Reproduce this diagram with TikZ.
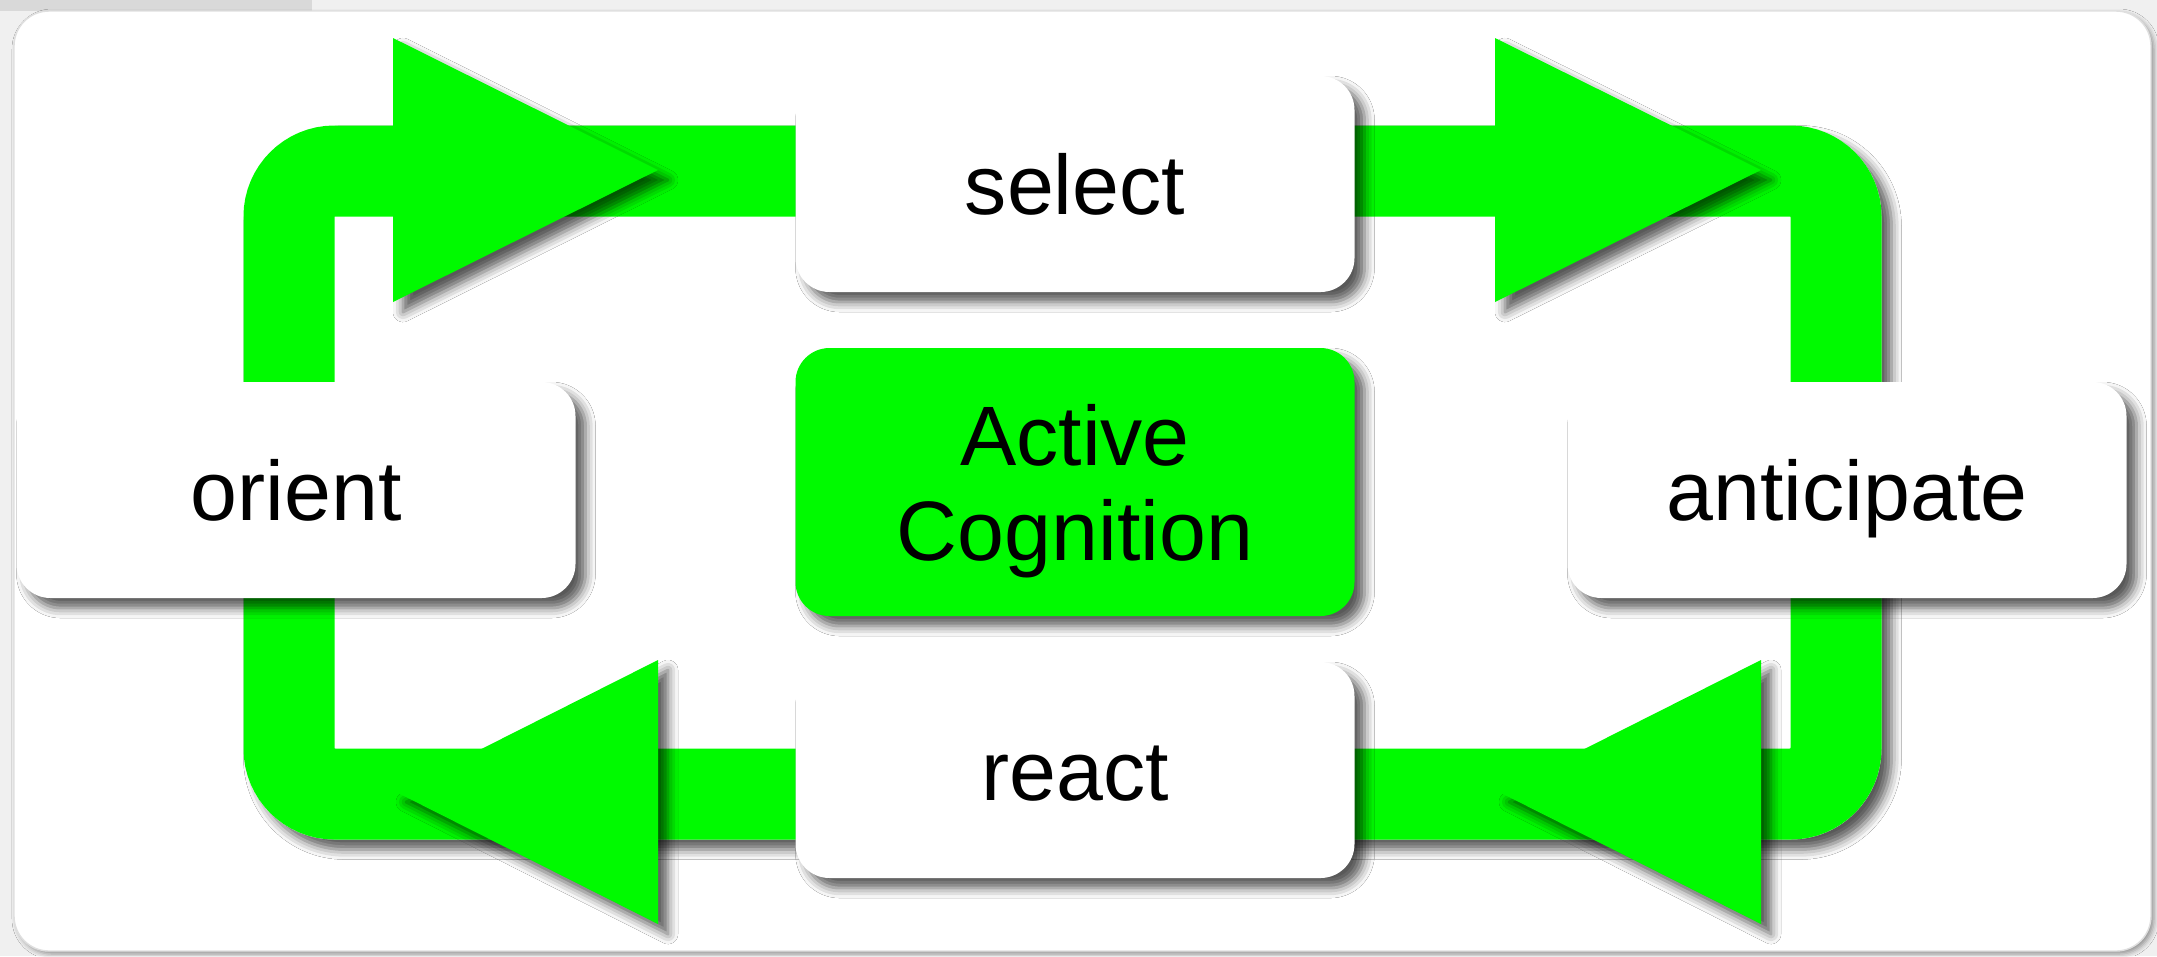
\documentclass[tikz,border=0pt]{standalone}
\usepackage{fontspec}
\setmainfont{Liberation Sans}
\usetikzlibrary{shadows.blur}
\definecolor{loopgreen}{RGB}{0,250,0}
\tikzset{
  softshadow/.style={blur shadow={shadow xshift=1mm, shadow yshift=-1mm,
    shadow blur radius=1mm, shadow opacity=65}},
  pill/.style={rectangle, rounded corners=3.4mm, fill=white, align=center,
    font=\fontsize{24}{27}\selectfont, minimum width=55.9mm, inner sep=0pt,
    softshadow},
  stage/.style={pill, minimum height=21.6mm, text height=17.3pt, text depth=0pt},
  core/.style={pill, fill=loopgreen, minimum height=26.8mm, text depth=0pt},
  band/.style={draw=loopgreen, line width=9.1mm, rounded corners=4.55mm},
  head/.style={fill=loopgreen, softshadow},
}

\begin{document}
\begin{tikzpicture}[x=0.1mm, y=-0.1mm]
\useasboundingbox (0,0) rectangle (2157,956);
\fill[gray!12] (0,0) rectangle (2157,956);
\fill[gray!30] (0,0) rectangle (312,11);
% panel
\fill[white, draw=gray!25, rounded corners=3.5mm,
  blur shadow={shadow xshift=0.3mm, shadow yshift=-0.3mm, shadow blur radius=0.5mm, shadow opacity=40}]
  (14,11) rectangle (2151,951);
% loop
\coordinate (nw) at (289,171);
\coordinate (se) at (1836,794);
\fill[white, rounded corners=9.1mm, softshadow] (243.5,125.5) rectangle (1881.5,839.5);
\draw[band] (nw) rectangle (se);
% arrow heads
\foreach \bx/\tx/\ty in {393/658/170, 1495/1761/170, 658/396/792, 1761/1499/792}
  \fill[head] (\bx,\ty-132) -- (\tx,\ty) -- (\bx,\ty+132) -- cycle;
% stages
\node[stage] (select) at (1075,184) {select};
\node[core] (active) at (1075,482) {Active\\Cognition};
\node[stage] (react) at (1075,770) {react};
\node[stage] (orient) at (296,490) {orient};
\node[stage] (anticipate) at (1847,490) {anticipate};
\end{tikzpicture}
\end{document}
